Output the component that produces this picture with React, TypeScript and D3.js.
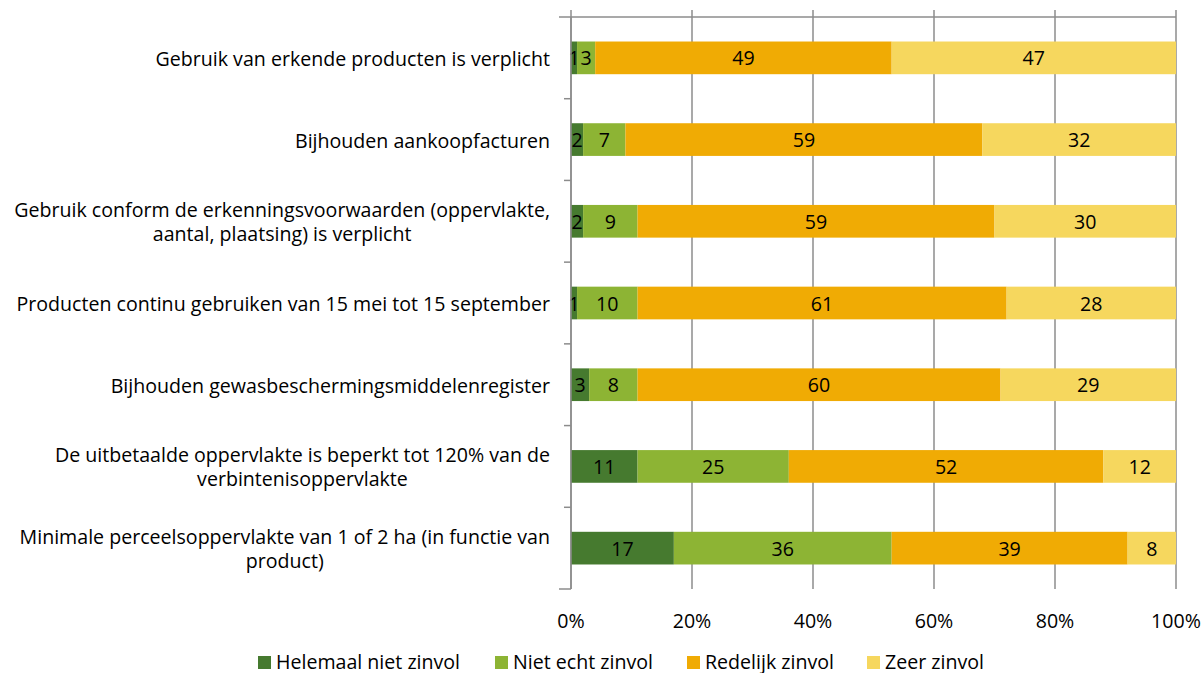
import React, { useEffect, useRef } from "react";
import * as d3 from "d3";

const categories: string[][] = [
  ["Gebruik van erkende producten is verplicht"],
  ["Bijhouden aankoopfacturen"],
  ["Gebruik conform de erkenningsvoorwaarden (oppervlakte,", "aantal, plaatsing) is verplicht"],
  ["Producten continu gebruiken van 15 mei tot 15 september"],
  ["Bijhouden gewasbeschermingsmiddelenregister"],
  ["De uitbetaalde oppervlakte is beperkt tot 120% van de", "verbintenisoppervlakte"],
  ["Minimale perceelsoppervlakte van 1 of 2 ha (in functie van", "product)"],
];
const seriesNames = ["Helemaal niet zinvol", "Niet echt zinvol", "Redelijk zinvol", "Zeer zinvol"];
const helemaalNiet = [1, 2, 2, 1, 3, 11, 17];
const nietEcht = [3, 7, 9, 10, 8, 25, 36];
const redelijk = [49, 59, 59, 61, 60, 52, 39];
const zeer = [47, 32, 30, 28, 29, 12, 8];
const colors = ["#467a2f", "#8db434", "#f0ab04", "#f6d75e"];
const tickValues = [0, 20, 40, 60, 80, 100];

const FONT = "'Open Sans', sans-serif";
const FS = 19.6;

export default function App() {
  const ref = useRef<SVGSVGElement>(null);
  useEffect(() => {
    const svg = d3.select(ref.current);
    svg.selectAll("*").remove();
    const left = 571, right = 1176, top = 17, bottom = 589;
    const x = d3.scaleLinear().domain([0, 100]).range([left, right]);
    const y = d3.scaleBand<number>().domain(d3.range(categories.length)).range([top, bottom]).paddingInner(0.6).paddingOuter(0.3);
    const bandStep = y.step();
    const grid = "#8c8c8c";

    svg.append("g").selectAll("line").data(tickValues).join("line")
      .attr("x1", (d) => x(d)).attr("x2", (d) => x(d))
      .attr("y1", top - 7).attr("y2", bottom)
      .attr("stroke", grid).attr("stroke-width", 1.5);
    svg.append("line").attr("x1", left - 12).attr("x2", right).attr("y1", top).attr("y2", top)
      .attr("stroke", grid).attr("stroke-width", 1.5);

    const data = categories.map((_, i) => [helemaalNiet[i], nietEcht[i], redelijk[i], zeer[i]]);
    const stackData = data.map((vals) => {
      let acc = 0;
      return vals.map((v, s) => { const r = { s, x0: acc, x1: acc + v, v }; acc += v; return r; });
    });
    const g = svg.append("g");
    stackData.forEach((segs, i) => {
      const yy = y(i)!;
      const bh = y.bandwidth();
      segs.forEach((sg) => {
        g.append("rect").attr("x", x(sg.x0)).attr("width", x(sg.x1) - x(sg.x0))
          .attr("y", yy).attr("height", bh).attr("fill", colors[sg.s]);
      });
      segs.forEach((sg) => {
        g.append("text").attr("x", (x(sg.x0) + x(sg.x1)) / 2).attr("y", yy + bh / 2)
          .attr("text-anchor", "middle").attr("dominant-baseline", "central")
          .attr("font-family", FONT).attr("font-size", FS).attr("fill", "#000")
          .text(String(sg.v));
      });
    });

    svg.append("line").attr("x1", left).attr("x2", left).attr("y1", top).attr("y2", bottom)
      .attr("stroke", grid).attr("stroke-width", 1.5);
    for (let i = 1; i < categories.length; i++) {
      const yb = top + bandStep * i;
      svg.append("line").attr("x1", left - 7).attr("x2", left).attr("y1", yb).attr("y2", yb)
        .attr("stroke", grid).attr("stroke-width", 1.5);
    }
    svg.append("line").attr("x1", left - 12).attr("x2", left).attr("y1", bottom).attr("y2", bottom)
      .attr("stroke", grid).attr("stroke-width", 1.5);

    svg.append("g").selectAll("text").data(tickValues).join("text")
      .attr("x", (d) => x(d)).attr("y", 620).attr("text-anchor", "middle").attr("dominant-baseline", "central")
      .attr("font-family", FONT).attr("font-size", FS).attr("fill", "#000")
      .text((d) => d + "%");

    const labelRight = 550;
    const lineH = 24;
    categories.forEach((lines, i) => {
      const cy = y(i)! + y.bandwidth() / 2;
      const t = svg.append("text")
        .attr("dominant-baseline", "central").attr("text-anchor", "middle")
        .attr("font-family", FONT).attr("font-size", FS).attr("fill", "#000");
      const spans = lines.map((ln, k) =>
        t.append("tspan").attr("y", cy + (k - (lines.length - 1) / 2) * lineH)
          .attr("dominant-baseline", "central").text(ln)
      );
      const widths = spans.map((s) => (s.node() as SVGTSpanElement).getComputedTextLength());
      const maxW = Math.max(...widths);
      spans.forEach((s) => s.attr("x", labelRight - maxW / 2));
    });

    const legendX = [258, 495, 687, 867];
    seriesNames.forEach((name, s) => {
      svg.append("rect").attr("x", legendX[s]).attr("y", 656).attr("width", 13).attr("height", 13).attr("fill", colors[s]);
      svg.append("text").attr("x", legendX[s] + 18).attr("y", 661).attr("dominant-baseline", "central")
        .attr("font-family", FONT).attr("font-size", FS).attr("fill", "#000").text(name);
    });
  }, []);
  return (
    <svg ref={ref} width={1203} height={673} style={{ position: "absolute", left: 0, top: 0, background: "#fff" }} />
  );
}
